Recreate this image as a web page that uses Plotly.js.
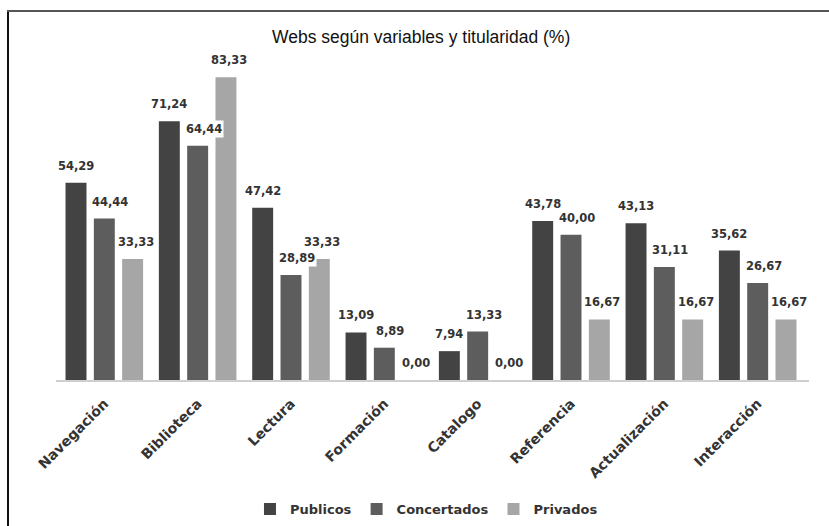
<!DOCTYPE html>
<html>
<head>
<meta charset="utf-8">
<script src="https://cdn.plot.ly/plotly-3.0.1.min.js"></script>
<style>
  html, body { margin: 0; padding: 0; background: #fff; overflow: hidden; }
  #wrap { position: relative; width: 829px; height: 526px; overflow: hidden; }
  #chart { position: absolute; left: 0; top: 0; width: 829px; height: 526px; }
  #frameL { position: absolute; left: 7px; top: 10px; width: 2px; height: 516px; background: #111; pointer-events: none; }
  #frameT { position: absolute; left: 7px; top: 10px; width: 822px; height: 2px; background: #555; pointer-events: none; }
</style>
</head>
<body>
<div id="wrap"><div id="chart"></div><div id="frameL"></div><div id="frameT"></div></div>
<script>
// ---- data ----
const categories = ['Navegación', 'Biblioteca', 'Lectura', 'Formación', 'Catalogo', 'Referencia', 'Actualización', 'Interacción'];
const seriesNames = ['Publicos', 'Concertados', 'Privados'];
const publicos    = [54.29, 71.24, 47.42, 13.09, 7.94, 43.78, 43.13, 35.62];
const concertados = [44.44, 64.44, 28.89, 8.89, 13.33, 40.00, 31.11, 26.67];
const privados    = [33.33, 83.33, 33.33, 0.00, 0.00, 16.67, 16.67, 16.67];
const titleText = 'Webs según variables y titularidad (%)';

// ---- style ----
const colors = ['#434343', '#5d5d5d', '#a6a6a6'];
const labelShift = [0, 6, 3];
const allSeries = [publicos, concertados, privados];

const traces = allSeries.map((vals, s) => ({
  type: 'bar',
  name: seriesNames[s],
  x: categories,
  y: vals,
  marker: { color: colors[s] },
  hoverinfo: 'none'
}));

const bargap = 0.09;
const slot = (1 - bargap) / 3;
const annotations = [];
allSeries.forEach((vals, s) => {
  vals.forEach((v, i) => {
    annotations.push({
      x: i + (s - 1) * slot,
      y: v,
      xref: 'x', yref: 'y',
      text: v.toFixed(2).replace('.', ','),
      showarrow: false,
      yanchor: 'middle',
      yshift: 17,
      xshift: labelShift[s],
      bgcolor: '#ffffff',
      borderpad: 1,
      font: { family: 'DejaVu Sans', size: 11.5, color: '#333333', weight: 'bold' }
    });
  });
});

const layout = {
  width: 829, height: 526,
  margin: { l: 56, r: 20, t: 53, b: 146, autoexpand: false },
  paper_bgcolor: '#ffffff',
  plot_bgcolor: '#ffffff',
  barmode: 'group',
  bargap: bargap,
  bargroupgap: 0.26,
  showlegend: true,
  title: {
    text: titleText,
    x: 0.508, xanchor: 'center',
    y: 0.93, yanchor: 'middle',
    font: { family: 'Liberation Sans, sans-serif', size: 17.5, color: '#111' }
  },
  xaxis: {
    type: 'category',
    tickangle: -45,
    automargin: false,
    showline: true, linecolor: '#cfcfcf', linewidth: 2,
    ticks: '', showgrid: false,
    ticklabelstandoff: 8,
    tickfont: { family: 'DejaVu Sans', size: 14, color: '#333333', weight: 'bold' }
  },
  yaxis: {
    range: [0, 90],
    visible: false,
    showgrid: false, zeroline: false
  },
  legend: {
    orientation: 'h',
    x: 0.492, xanchor: 'center',
    yref: 'container',
    y: 0.032, yanchor: 'middle',
    font: { family: 'DejaVu Sans', size: 13, color: '#333333', weight: 'bold' },
    itemwidth: 30,
    tracegroupgap: 0
  },
  annotations: annotations
};

Plotly.newPlot('chart', traces, layout, { displayModeBar: false, staticPlot: true });
</script>
</body>
</html>
